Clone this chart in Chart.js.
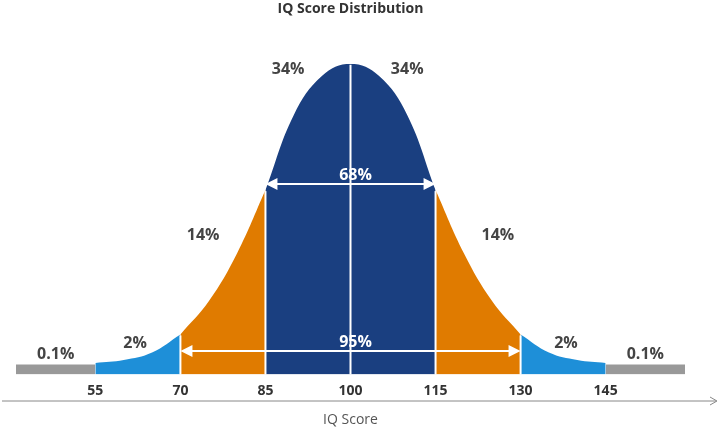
<!DOCTYPE html>
<html>
<head>
<meta charset="utf-8">
<script src="https://cdn.jsdelivr.net/npm/chart.js@4"></script>
<style>
  body { margin: 0; background: #fff; }
  #wrap { width: 720px; height: 428px; }
</style>
</head>
<body>
<div id="wrap"><canvas id="iqChart"></canvas></div>
<script>
// IQ score bell curve
const iqScores = [55, 60, 65, 70, 75, 80, 85, 90, 95, 100, 105, 110, 115, 120, 125, 130, 135, 140, 145];
const curveHeights = [0.5, 1.5, 4, 10, 21, 37, 58, 83, 96, 100, 96, 83, 58, 37, 21, 10, 4, 1.5, 0.5];
const tickScores = [55, 70, 85, 100, 115, 130, 145];
const bandEdges = [55, 70, 85, 115, 130, 145];
const bandColors = ['#1e8fd8', '#e07b00', '#1a3f80', '#e07b00', '#1e8fd8'];
const tailRanges = [[41, 55], [145, 159]];
const percentLabels = [
    { x: 89, y: 98, text: '34%' }, { x: 110, y: 98, text: '34%' },
    { x: 74, y: 43, text: '14%' }, { x: 126, y: 43, text: '14%' },
    { x: 62, y: 7, text: '2%' }, { x: 138, y: 7, text: '2%' },
    { x: 48, y: 3.5, text: '0.1%' }, { x: 152, y: 3.5, text: '0.1%' }
];
const arrows = [
    { from: 85, to: 115, y: 60, text: '68%' },
    { from: 70, to: 130, y: 4.5, text: '95%' }
];

const points = iqScores.map((x, i) => ({ x, y: curveHeights[i] }));
const baseLevel = -3.3;

const datasets = [];
for (let b = 0; b < bandColors.length; b++) {
    const seg = points.filter(p => p.x >= bandEdges[b] && p.x <= bandEdges[b + 1]);
    datasets.push({
        data: seg,
        borderWidth: 0,
        backgroundColor: bandColors[b],
        fill: { value: baseLevel },
        pointRadius: 0,
        tension: 0.4
    });
}
tailRanges.forEach(r => {
    datasets.push({
        data: [{ x: r[0], y: 0 }, { x: r[1], y: 0 }],
        borderWidth: 0,
        backgroundColor: '#999999',
        fill: { value: baseLevel },
        pointRadius: 0
    });
});

function heightAt(x) {
    const i = iqScores.indexOf(x);
    return i >= 0 ? curveHeights[i] : 0;
}

const overlay = {
    id: 'overlay',
    afterDatasetsDraw(chart) {
        const ctx = chart.ctx;
        const xs = chart.scales.x, ys = chart.scales.y;
        ctx.save();
        // white dividers
        ctx.strokeStyle = '#ffffff';
        ctx.lineWidth = 2;
        [70, 85, 100, 115, 130].forEach(v => {
            ctx.beginPath();
            ctx.moveTo(xs.getPixelForValue(v), ys.getPixelForValue(baseLevel));
            ctx.lineTo(xs.getPixelForValue(v), ys.getPixelForValue(heightAt(v)) + 1);
            ctx.stroke();
        });
        // arrows
        arrows.forEach(a => {
            const x1 = xs.getPixelForValue(a.from), x2 = xs.getPixelForValue(a.to);
            const y = ys.getPixelForValue(a.y);
            ctx.strokeStyle = '#ffffff';
            ctx.fillStyle = '#ffffff';
            ctx.lineWidth = 2;
            ctx.beginPath();
            ctx.moveTo(x1 + 6, y); ctx.lineTo(x2 - 6, y);
            ctx.stroke();
            [[x1, 1], [x2, -1]].forEach(([x, d]) => {
                ctx.beginPath();
                ctx.moveTo(x, y);
                ctx.lineTo(x + d * 12, y - 6);
                ctx.lineTo(x + d * 12, y + 6);
                ctx.closePath();
                ctx.fill();
            });
            ctx.font = 'bold 16px "Open Sans", Arial, sans-serif';
            ctx.textAlign = 'center';
            ctx.textBaseline = 'bottom';
            ctx.fillText(a.text, (x1 + x2) / 2 + 5, y - 1);
        });
        // percent labels
        ctx.fillStyle = '#444444';
        ctx.font = 'bold 16px "Open Sans", Arial, sans-serif';
        ctx.textAlign = 'center';
        ctx.textBaseline = 'middle';
        percentLabels.forEach(l => {
            ctx.fillText(l.text, xs.getPixelForValue(l.x), ys.getPixelForValue(l.y));
        });
        // bottom axis line with arrow
        const ay = 401;
        ctx.strokeStyle = '#888888';
        ctx.lineWidth = 1;
        ctx.beginPath();
        ctx.moveTo(2, ay); ctx.lineTo(716, ay);
        ctx.stroke();
        ctx.beginPath();
        ctx.moveTo(710, ay - 4); ctx.lineTo(717, ay); ctx.lineTo(710, ay + 4);
        ctx.stroke();
        ctx.restore();
    }
};

new Chart(document.getElementById('iqChart'), {
    type: 'line',
    data: { datasets },
    options: {
        responsive: true,
        maintainAspectRatio: false,
        animation: false,
        layout: { padding: { top: 0, left: 16, right: 35, bottom: 0 } },
        plugins: {
            legend: { display: false },
            tooltip: { enabled: false },
            title: {
                display: true,
                text: 'IQ Score Distribution',
                color: '#333333',
                font: { size: 14, weight: 'bold', family: '"Open Sans", Arial, sans-serif' },
                padding: { top: 1, bottom: 46 }
            }
        },
        scales: {
            x: {
                type: 'linear',
                min: 41,
                max: 159,
                afterBuildTicks: axis => { axis.ticks = tickScores.map(v => ({ value: v })); },
                grid: { display: false },
                border: { display: false },
                ticks: {
                    color: '#333333',
                    padding: 0,
                    font: { size: 14, weight: 'bold', family: '"Open Sans", Arial, sans-serif' }
                },
                title: {
                    display: true,
                    text: 'IQ Score',
                    color: '#555555',
                    font: { size: 14, family: '"Open Sans", Arial, sans-serif' },
                    padding: { top: 12, bottom: 0 }
                }
            },
            y: {
                display: false,
                min: baseLevel,
                max: 100
            }
        }
    },
    plugins: [overlay]
});
</script>
</body>
</html>
